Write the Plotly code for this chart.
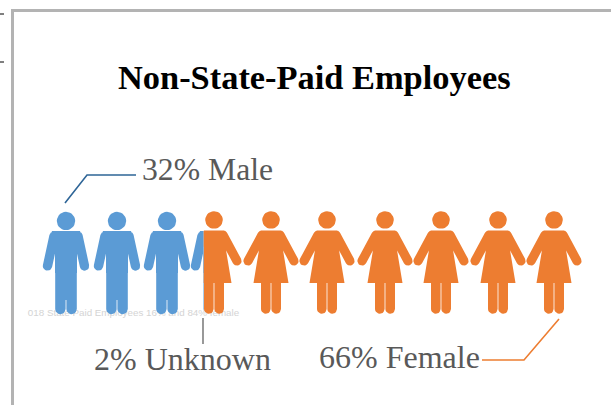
import math
import plotly.graph_objects as go

# ---- data ----
TITLE = "Non-State-Paid Employees"
shares = {"Male": 32, "Unknown": 2, "Female": 66}
male_centers = [66, 117, 167]
split_center = 212
female_centers = [271, 327, 385, 441, 498, 554]
label_male = "32% Male"
label_unknown = "2% Unknown"
label_female = "66% Female"
watermark = "018 State Paid Employees 16% and 84% female"

BLUE = "#5B9BD5"
ORANGE = "#ED7D31"
GREY = "#595959"
DARKBLUE = "#2E6597"
FRAME = "#B3B3B3"
W, H = 611, 405
SPLIT_X = 203.7


def disc(cx, cy, r, n=28):
    return [(cx + r * math.cos(2 * math.pi * i / n), cy + r * math.sin(2 * math.pi * i / n)) for i in range(n)]


def orient(poly):
    a = sum(poly[i][0] * poly[(i + 1) % len(poly)][1] - poly[(i + 1) % len(poly)][0] * poly[i][1]
            for i in range(len(poly)))
    return poly if a > 0 else poly[::-1]


def capsule(p, q, r, n=10):
    ang = math.atan2(q[1] - p[1], q[0] - p[0])
    pts = []
    for i in range(n + 1):
        t = ang + math.pi / 2 + math.pi * i / n
        pts.append((p[0] + r * math.cos(t), p[1] + r * math.sin(t)))
    for i in range(n + 1):
        t = ang - math.pi / 2 + math.pi * i / n
        pts.append((q[0] + r * math.cos(t), q[1] + r * math.sin(t)))
    return pts


def male_parts(c):
    return [
        disc(c, 221, 9.2),
        [(c - 14, 231), (c + 14, 231), (c + 15, 234), (c + 11, 250), (c + 11, 273), (c + 0.6, 273), (c + 0.6, 300),
         (c - 0.6, 300), (c - 0.6, 273), (c - 11, 273), (c - 11, 250), (c - 15, 234)],
        capsule((c - 12, 236), (c - 18.5, 266), 4.7),
        capsule((c + 12, 236), (c + 18.5, 266), 4.7),
        capsule((c - 5.6, 272), (c - 5.6, 309), 5.2),
        capsule((c + 5.6, 272), (c + 5.6, 309), 5.2),
    ]


def female_parts(c):
    return [
        disc(c, 220, 8.8),
        [(c - 10, 230.5), (c + 10, 230.5), (c + 12, 250), (c + 17.5, 283), (c - 17.5, 283), (c - 12, 250)],
        capsule((c - 9, 235), (c - 23, 261), 4.6),
        capsule((c + 9, 235), (c + 23, 261), 4.6),
        capsule((c - 5.2, 280), (c - 5.2, 309), 4.8),
        capsule((c + 5.2, 280), (c + 5.2, 309), 4.8),
    ]


def clip(poly, x0, keep_left):
    out = []
    inside = (lambda p: p[0] <= x0) if keep_left else (lambda p: p[0] >= x0)
    for i, a in enumerate(poly):
        b = poly[(i + 1) % len(poly)]
        if inside(a):
            out.append(a)
        if inside(a) != inside(b):
            t = (x0 - a[0]) / (b[0] - a[0])
            out.append((x0, a[1] + t * (b[1] - a[1])))
    return out


def person_trace(parts, color, name):
    xs, ys = [], []
    for poly in parts:
        if len(poly) < 3:
            continue
        poly = orient(poly)
        xs += [p[0] for p in poly] + [poly[0][0], None]
        ys += [p[1] for p in poly] + [poly[0][1], None]
    return go.Scatter(x=xs, y=ys, mode="lines", fill="toself", fillcolor=color,
                      line=dict(width=0, color=color), name=name, hoverinfo="skip", showlegend=False)


fig = go.Figure()

# watermark sits behind the figures
fig.add_trace(go.Scatter(x=[133.5], y=[313.5], mode="text", text=[watermark], hoverinfo="skip", showlegend=False,
                         textfont=dict(family="Liberation Sans", size=9.8, color="#D4D4D4")))

for c in male_centers:
    fig.add_trace(person_trace(male_parts(c), BLUE, "Male"))
fig.add_trace(person_trace([clip(p, SPLIT_X, True) for p in male_parts(split_center + 2)], BLUE, "Male"))
fig.add_trace(person_trace([clip(p, SPLIT_X, False) for p in female_parts(split_center + 2)], ORANGE, "Female"))
for c in female_centers:
    fig.add_trace(person_trace(female_parts(c), ORANGE, "Female"))


def leader(xs, ys, color, width=1.6):
    fig.add_trace(go.Scatter(x=xs, y=ys, mode="lines", line=dict(color=color, width=width),
                             hoverinfo="skip", showlegend=False))


leader([65, 87, 136], [203, 175, 175], DARKBLUE)
leader([203, 203], [318, 344], "#7F7F7F")
leader([482, 524, 559], [360, 360, 319], ORANGE)

shapes = [
    dict(type="rect", x0=11, x1=14, y0=9, y1=H, fillcolor=FRAME, line_width=0),
    dict(type="rect", x0=11, x1=W, y0=9, y1=12, fillcolor=FRAME, line_width=0),
    dict(type="line", x0=0, x1=4, y0=14, y1=14, line=dict(color="black", width=1)),
    dict(type="line", x0=0, x1=4, y0=62, y1=62, line=dict(color="black", width=1)),
]


def label(x, y, text, size, color, bold=False, anchor="left"):
    fig.add_annotation(x=x, y=y, text=f"<b>{text}</b>" if bold else text, showarrow=False, xanchor=anchor,
                       yanchor="middle", xshift=0, font=dict(family="Liberation Serif", size=size, color=color))


label(314.5, 77, TITLE, 34.4, "black", bold=True, anchor="center")
label(207.5, 169, label_male, 31.7, GREY, anchor="center")
label(182.5, 359, label_unknown, 32, GREY, anchor="center")
label(399.5, 357, label_female, 32, GREY, anchor="center")

fig.update_layout(
    width=W, height=H, margin=dict(l=0, r=0, t=0, b=0), autosize=False,
    paper_bgcolor="white", plot_bgcolor="white", showlegend=False, shapes=shapes,
    xaxis=dict(range=[0, W], visible=False, fixedrange=True),
    yaxis=dict(range=[H, 0], visible=False, fixedrange=True),
)
fig.write_html("out.html", config={"displayModeBar": False},
               post_script="document.body.style.margin='0';document.documentElement.style.overflow='hidden';")
